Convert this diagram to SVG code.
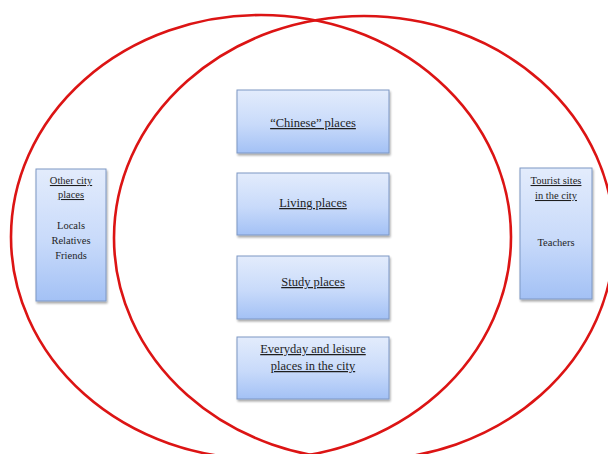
<svg xmlns="http://www.w3.org/2000/svg" width="608" height="454" viewBox="0 0 608 454">
  <defs>
    <linearGradient id="boxGrad" x1="0" y1="0" x2="0" y2="1">
      <stop offset="0" stop-color="#e3ecfc"/>
      <stop offset="0.55" stop-color="#c8dafa"/>
      <stop offset="1" stop-color="#a3c1f5"/>
    </linearGradient>
    <filter id="shadow" x="-10%" y="-10%" width="130%" height="130%">
      <feGaussianBlur in="SourceAlpha" stdDeviation="1.2"/>
      <feOffset dx="1" dy="2" result="b"/>
      <feComponentTransfer><feFuncA type="linear" slope="0.35"/></feComponentTransfer>
      <feMerge><feMergeNode/><feMergeNode in="SourceGraphic"/></feMerge>
    </filter>
  </defs>
  <style>
    .set { fill: none; stroke: #dc1414; stroke-width: 2.6; }
    .box { fill: url(#boxGrad); stroke: #7d97c4; stroke-width: 1; filter: url(#shadow); }
    text { font-family: 'Liberation Serif', 'Times New Roman', serif; fill: #1e1e1e; text-anchor: middle; }
    .big { font-size: 12.5px; }
    .small { font-size: 10.5px; }
    .u { text-decoration: underline; }
  </style>
  <rect width="608" height="454" fill="#ffffff"/>
  <g id="sets">
    <ellipse id="set-left" class="set" cx="261" cy="237" rx="250" ry="222"/>
    <ellipse id="set-right" class="set" cx="364" cy="238" rx="250" ry="222"/>
  </g>
  <g id="connectors"></g>
  <g id="node-chinese">
    <rect class="box" x="237" y="90" width="152" height="63"/>
    <text class="big u" x="313" y="127">“Chinese” places</text>
  </g>
  <g id="node-living">
    <rect class="box" x="237" y="173" width="152" height="62"/>
    <text class="big u" x="313" y="207">Living places</text>
  </g>
  <g id="node-study">
    <rect class="box" x="237" y="256" width="152" height="63"/>
    <text class="big u" x="313" y="286">Study places</text>
  </g>
  <g id="node-everyday">
    <rect class="box" x="237" y="337" width="152" height="62"/>
    <text class="big u" x="313" y="353">Everyday and leisure</text>
    <text class="big u" x="313" y="370">places in the city</text>
  </g>
  <g id="node-other">
    <rect class="box" x="36" y="169" width="70" height="132"/>
    <text class="small u" x="71" y="184">Other city</text>
    <text class="small u" x="71" y="198">places</text>
    <text class="small" x="71" y="229">Locals</text>
    <text class="small" x="71" y="244">Relatives</text>
    <text class="small" x="71" y="259">Friends</text>
  </g>
  <g id="node-tourist">
    <rect class="box" x="520" y="168" width="72" height="131"/>
    <text class="small u" x="556" y="184">Tourist sites</text>
    <text class="small u" x="556" y="199">in the city</text>
    <text class="small" x="556" y="246">Teachers</text>
  </g>
</svg>
